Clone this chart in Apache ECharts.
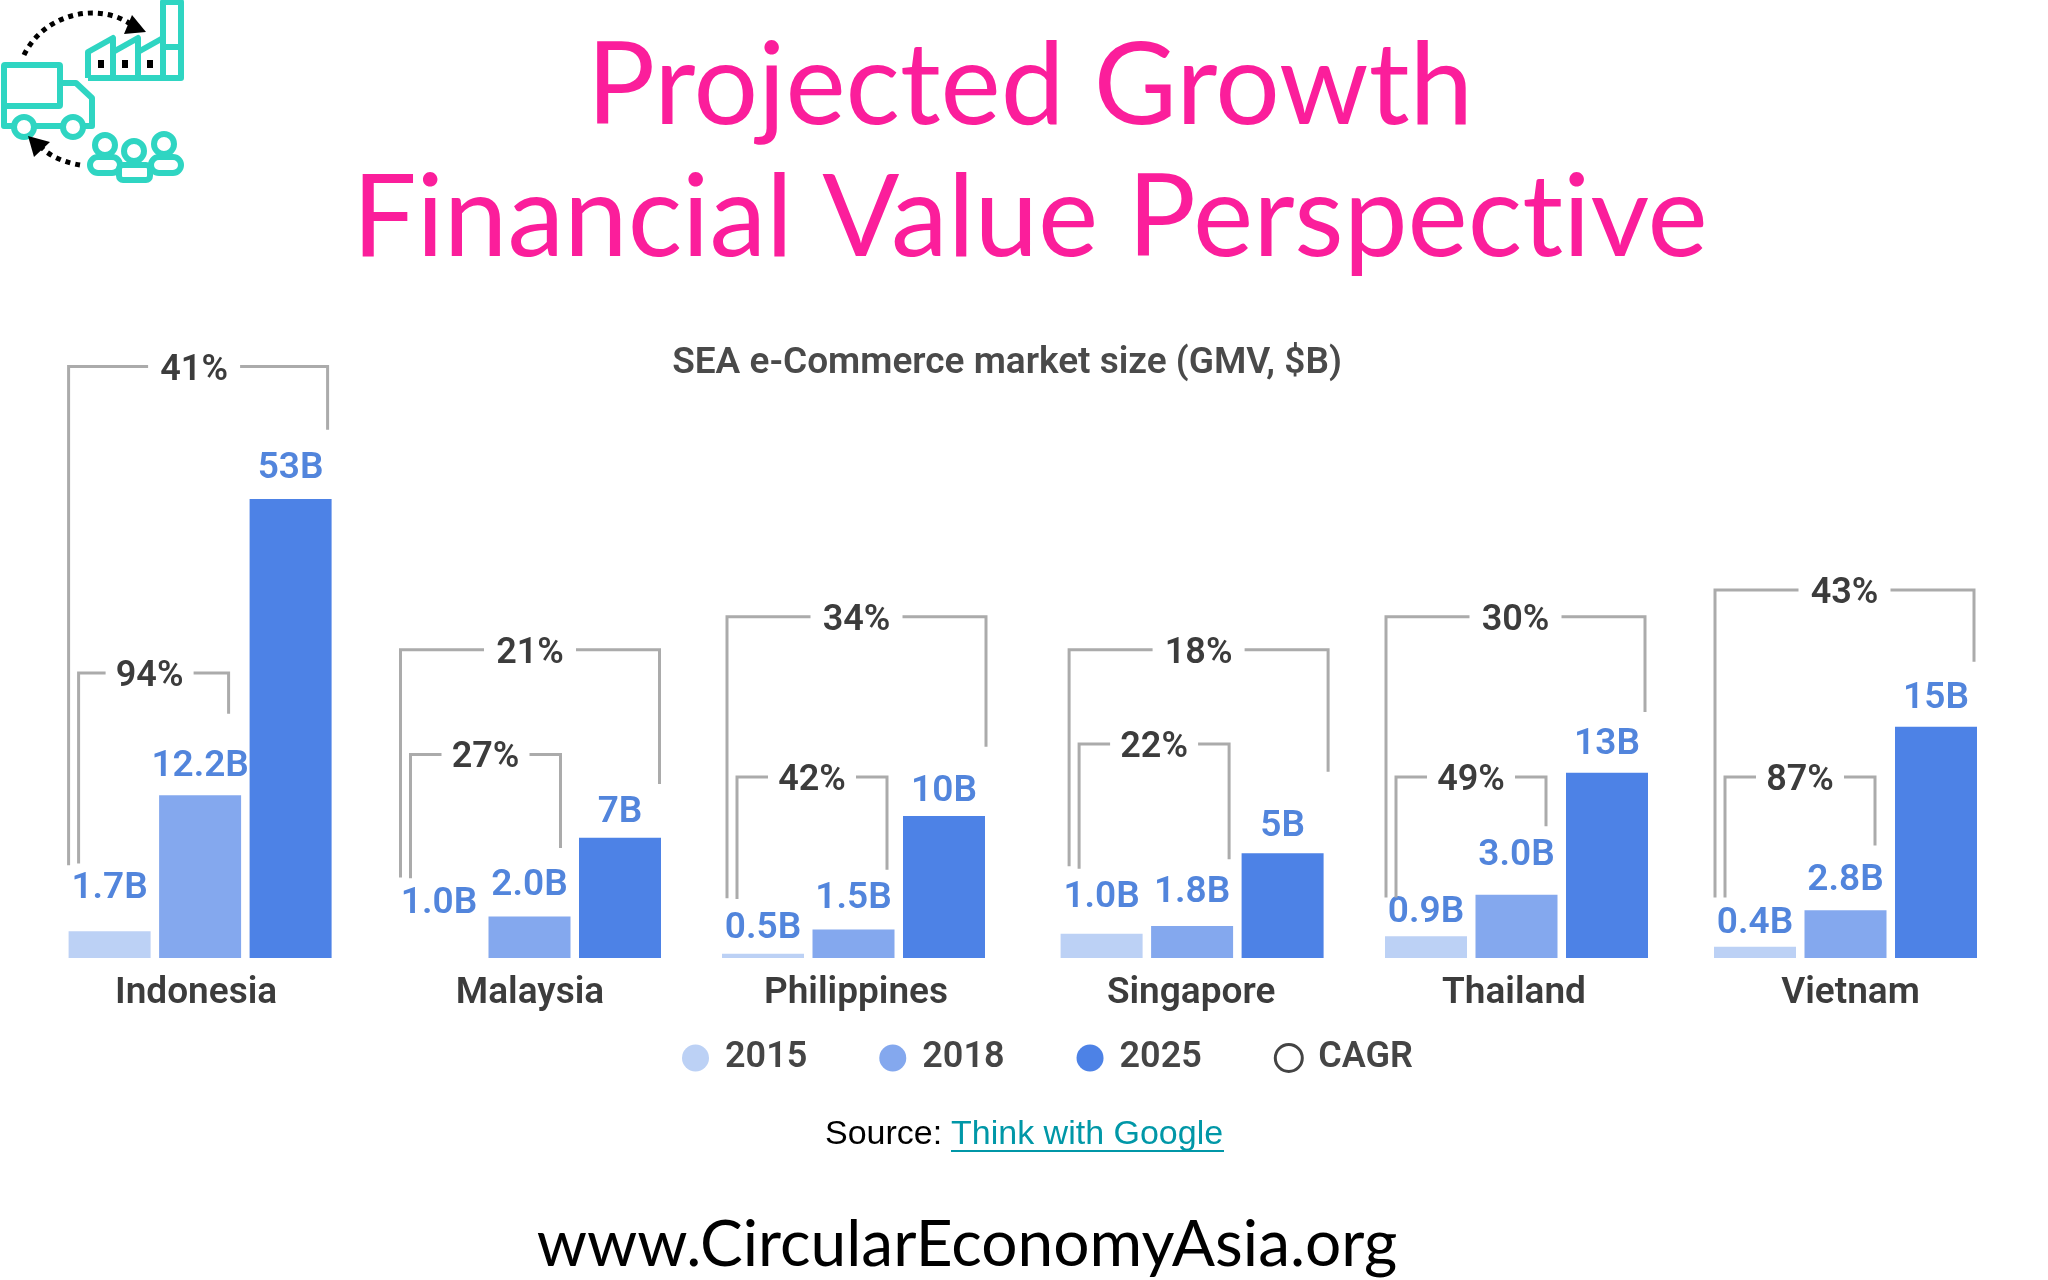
<!DOCTYPE html>
<html>
<head>
<meta charset="utf-8">
<title>Projected Growth</title>
<script src="https://cdn.jsdelivr.net/npm/echarts@6/dist/echarts.min.js"></script>
<style>
html,body{margin:0;padding:0;background:#fff;}
#chart{width:2048px;height:1280px;}
</style>
</head>
<body>
<div id="chart"></div>
<script>
var countries = ['Indonesia','Malaysia','Philippines','Singapore','Thailand','Vietnam'];
var years = ['2015','2018','2025'];

// printed values, as written above the bars
var labels2015 = ['1.7B','1.0B','0.5B','1.0B','0.9B','0.4B'];
var labels2018 = ['12.2B','2.0B','1.5B','1.8B','3.0B','2.8B'];
var labels2025 = ['53B','7B','10B','5B','13B','15B'];

// bar heights (the source is not to scale, so 53B = 53 and the rest as drawn)
var heights2015 = [3.1,0,0.5,2.8,2.5,1.3];
var heights2018 = [18.8,4.8,3.3,3.7,7.3,5.5];
var heights2025 = [53,13.9,16.4,12.1,21.4,26.7];

// CAGR brackets: percent, level of the top, level of left foot, level of right foot
var cagrOuter = ['41%','21%','34%','18%','30%','43%'];
var outerTop = [68.3,35.6,39.4,35.6,39.4,42.5];
var outerLeft = [10.7,9.3,6.9,10.6,7.0,7.0];
var outerRight = [61,20.1,24.4,21.5,28.4,34.2];
var cagrInner = ['94%','27%','42%','22%','49%','87%'];
var innerTop = [32.9,23.5,20.9,24.7,20.9,20.9];
var innerLeft = [10.9,9.2,6.8,10.3,7,7];
var innerRight = [28.2,12.7,10.2,11.4,15.2,13];

// layout of the six groups, pixels
var groupLeft = [68.6,398,722,1060.6,1385,1714];
var bracketShift = [0,2.5,5,8.5,1,1];
var midShift = [-4,0,0,0,0,0];
var nameShift = [-4,0.5,2.5,-1,-2.5,5];
var gap2015 = [23.5,35.5,6.5,17.6,5.6,4];
var gap2018 = [10,12.5,12.5,15,21,11.6];
var gap2025 = [12,6,5.6,8.4,9.8,10];
var BAR = 82, BAND = 90.5;

var colors = ['#bcd1f5','#84a8ee','#4d82e6'];
var BLUE = '#5285dc', DARK = '#3c3c3c', GREY = '#ababab', TEAL = '#2fd5c2';
var FONT = 'Roboto';

var grids = [], xAxes = [], yAxes = [], series = [];

function bracketRender(texts, shift){
	return function(params, api){
		var i = params.dataIndex;
		var x0 = api.coord([0,0])[0] - BAR/2 + api.value(4);
		var x1 = x0 + (i == 0 ? 0 : 10);
		var x2 = x1 + (i == 0 ? 259 : 150);
		var mid = (x1 + x2) / 2 + shift;
		var half = i == 0 ? 46 : 44;
		var yT = api.coord([0,api.value(1)])[1];
		var yL = api.coord([0,api.value(2)])[1];
		var yR = api.coord([0,api.value(3)])[1];
		var line = {stroke:GREY,lineWidth:3,fill:'none'};
		return {type:'group',children:[
			{type:'polyline',shape:{points:[[x1,yL],[x1,yT],[mid-half,yT]]},style:line},
			{type:'polyline',shape:{points:[[mid+half,yT],[x2,yT],[x2,yR]]},style:line},
			{type:'text',style:{x:mid,y:yT+4,text:texts[i],fill:DARK,font:'600 36px '+FONT,align:'center',verticalAlign:'middle'}}
		]};
	};
}

countries.forEach(function(name, c){
	grids.push({left:groupLeft[c]-(BAND-BAR)/2,width:BAND*3,top:351.8,height:606.2});
	var d = nameShift[c];
	xAxes.push({
		gridIndex:c,type:'category',data:years,
		axisLine:{show:false},axisTick:{show:false},axisLabel:{show:false},
		name:name,nameLocation:'middle',nameGap:17,
		nameTextStyle:{fontFamily:FONT,fontWeight:600,fontSize:37,color:DARK,
			padding:d > 0 ? [0,0,0,2*d] : [0,-2*d,0,0]}
	});
	yAxes.push({gridIndex:c,type:'value',min:0,max:70,show:false,splitLine:{show:false}});

	var heights = [heights2015,heights2018,heights2025];
	var labels = [labels2015,labels2018,labels2025];
	var gaps = [gap2015,gap2018,gap2025];
	years.forEach(function(y, k){
		var data = [null,null,null];
		data[k] = {
			value:heights[k][c],
			label:{show:true,position:'top',distance:gaps[k][c],formatter:labels[k][c],
				fontFamily:FONT,fontWeight:600,fontSize:37,color:BLUE}
		};
		series.push({
			name:y,type:'bar',xAxisIndex:c,yAxisIndex:c,data:data,
			barWidth:BAR,barGap:'-100%',itemStyle:{color:colors[k]},silent:true
		});
	});
	series.push({
		name:'CAGR',type:'custom',xAxisIndex:c,yAxisIndex:c,silent:true,clip:false,z:5,
		encode:{x:0,y:[1,2,3]},
		itemStyle:{color:'#fff',borderColor:'#444',borderWidth:3},
		renderItem:bracketRender([cagrOuter[c],cagrInner[c]],midShift[c]),
		data:[
			[0,outerTop[c],outerLeft[c],outerRight[c],bracketShift[c]],
			[0,innerTop[c],innerLeft[c],innerRight[c],bracketShift[c]]
		]
	});
});

// small logo in the corner
function tl(points){return {type:'polyline',shape:{points:points},style:{stroke:TEAL,lineWidth:6,fill:'none',lineJoin:'round'}};}
function ring(x,y,r){return {type:'circle',shape:{cx:x,cy:y,r:r},style:{stroke:TEAL,lineWidth:6,fill:'#fff'}};}
function box(x,y,w,h,r){return {type:'rect',shape:{x:x,y:y,width:w,height:h,r:r||0},style:{stroke:TEAL,lineWidth:6,fill:'#fff',lineJoin:'round'}};}
function win(x){return {type:'rect',shape:{x:x,y:60,width:6,height:8},style:{fill:'#000'}};}
var logo = [
	box(4,65,56,41,1),
	tl([[59,83],[76,83],[92,98],[92,126],[84,126]]),
	tl([[4,105],[4,126],[13,126]]),
	tl([[35,126],[62,126]]),
	ring(24,127,10),ring(73,127,10),
	tl([[88,78],[88,52],[113,38],[113,52],[138,38],[138,52],[163,38]]),
	tl([[88,78],[180,78]]),
	tl([[113,52],[113,78]]),
	tl([[138,52],[138,78]]),
	box(163,2,18,76),
	tl([[163,47],[181,47]]),
	win(98),win(122),win(147),
	ring(105,145,10),ring(164,144,10),
	box(90,157,30,16,8),box(151,157,30,16,8),
	ring(134,151,10),
	box(119,165,31,15,4),
	{type:'bezierCurve',shape:{x1:24,y1:55,x2:132,y2:25,cpx1:45,cpy1:12,cpx2:100,cpy2:2},
		style:{stroke:'#000',lineWidth:5,fill:'none',lineDash:[5,5]}},
	{type:'polygon',shape:{points:[[132,15],[146,32],[124,34]]},style:{fill:'#000'}},
	{type:'bezierCurve',shape:{x1:80,y1:165,x2:42,y2:148,cpx1:68,cpy1:163,cpx2:52,cpy2:158},
		style:{stroke:'#000',lineWidth:5,fill:'none',lineDash:[5,5]}},
	{type:'polygon',shape:{points:[[28,136],[50,142],[34,157]]},style:{fill:'#000'}}
];

var texts = [
	{type:'text',x:825,y:1135,style:{text:'Source: ',font:'34px "Liberation Sans"',fill:'#000',verticalAlign:'middle'}},
	{type:'text',x:951,y:1135,style:{text:'Think with Google',font:'34px "Liberation Sans"',fill:'#0097a7',verticalAlign:'middle'}},
	{type:'rect',shape:{x:951,y:1150,width:273,height:2},style:{fill:'#0097a7'}},
	{type:'text',x:967,y:1245,style:{text:'www.CircularEconomyAsia.org',font:'64px Lato',fill:'#000',align:'center',verticalAlign:'middle'}}
];

var option = {
	backgroundColor:'#fff',
	animation:false,
	title:[
		{text:'Projected Growth\nFinancial Value Perspect\u200Cive',left:1025,top:16,textAlign:'center',
			textStyle:{fontFamily:'Lato',fontWeight:400,fontSize:114,lineHeight:132,color:'#fb1e9b'}},
		{text:'SEA e-Commerce market size (GMV, $B)',left:1002,top:340,textAlign:'center',
			textStyle:{fontFamily:FONT,fontWeight:600,fontSize:37,color:'#4a4a4a'}}
	],
	legend:{
		left:677,top:1035,orient:'horizontal',selectedMode:false,
		itemWidth:31,itemHeight:27,itemGap:72,symbolKeepAspect:false,
		textStyle:{fontFamily:FONT,fontWeight:600,fontSize:36,color:'#454545',padding:[0,0,0,9]},
		data:[
			{name:'2015',icon:'circle'},
			{name:'2018',icon:'circle'},
			{name:'2025',icon:'circle'},
			{name:'CAGR',icon:'circle',itemStyle:{color:'#fff',borderColor:'#444',borderWidth:3}}
		]
	},
	grid:grids,
	xAxis:xAxes,
	yAxis:yAxes,
	series:series,
	graphic:logo.concat(texts)
};

var myChart = echarts.init(document.getElementById('chart'));
myChart.setOption(option);
</script>
</body>
</html>
